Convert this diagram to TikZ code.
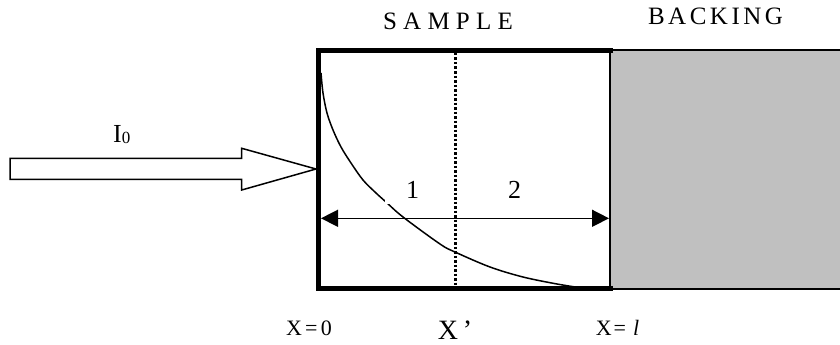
\documentclass[tikz,border=0pt]{standalone}
\usepackage{fontspec}
\setmainfont{Liberation Serif}
\usetikzlibrary{arrows.meta}
\definecolor{backgray}{RGB}{192,192,192}
\begin{document}
\begin{tikzpicture}[x=1pt,y=-1pt,
  thinline/.style={line width=1.5pt, line join=miter},
  thickframe/.style={line width=5pt, line join=miter},
  dotline/.style={line width=3pt, dash pattern=on 2.5pt off 2pt},
  lbl/.style={inner sep=0pt, font=\fontsize{26}{28}\selectfont},
  toplbl/.style={inner sep=0pt, anchor=base},
  botlbl/.style={inner sep=0pt, anchor=base},
  dimtip/.tip={Triangle[length=17pt,width=17pt]}]
\useasboundingbox (0,0) rectangle (840,345);
% corners
\coordinate (sTL) at (318.5,50.5);
\coordinate (sTR) at (613,50.5);
\coordinate (sBL) at (318.5,288.5);
\coordinate (sBR) at (613,288.5);
% backing
\draw[fill=backgray, line width=2pt] (609.5,50.3) rectangle (860,289);
% sample frame
\draw[thickframe] (sTR) -- (sTL) -- (sBL) -- (sBR);
% dotted line
\coordinate (dTop) at (455,53);
\coordinate (dBot) at (455,286);
\draw[dotline] (dTop) -- (dBot);
% attenuation curve
\draw[thinline] plot[smooth, tension=0.55] coordinates {(321,73) (323,93) (327,113) (333,130) (341,147) (351,163) (363,180) (376,193) (386,202) (403,217) (440,244) (455,252) (490,267) (523,277) (557,284) (582,288)};
% labels 1 and 2
\node[lbl, fill=white, minimum width=56pt, minimum height=28pt] (one) at (412.5,189.5) {1};
\node[lbl] (two) at (514.5,189.5) {2};
% dimension arrow
\coordinate (aL) at (321,218.3);
\coordinate (aR) at (609,218.3);
\draw[thinline, dimtip-dimtip] (aL) -- (aR);
% incident hollow arrow
\coordinate (tip) at (316,169);
\draw[thinline, fill=white] (10,158.3) -- (241.7,158.3) -- (241.7,148.3) -- (tip) -- (241.7,190) -- (241.7,179.3) -- (10,179.3) -- cycle;
\node[inner sep=0pt, anchor=base west, font=\fontsize{26}{28}\selectfont] (I0) at (113,142.7) {I\raisebox{-0.6pt}{\fontsize{17}{18}\selectfont 0}};
% top labels
\node[toplbl, font=\fontsize{25}{27}\selectfont\addfontfeature{LetterSpace=25}] (sample) at (448,30) {SAMPLE};
\node[toplbl, font=\fontsize{25}{27}\selectfont\addfontfeature{LetterSpace=14}] (backing) at (715.5,25) {BACKING};
% bottom labels
\node[botlbl, font=\fontsize{22}{24}\selectfont\addfontfeature{LetterSpace=15}] (x0) at (309,335) {X=0};
\node[botlbl, font=\fontsize{28}{30}\selectfont] (xp) at (455,339) {X\,'};
\node[botlbl, font=\fontsize{22}{24}\selectfont\addfontfeature{LetterSpace=8}] (xl) at (618.5,335) {X= \textit{l}};
\end{tikzpicture}
\end{document}
